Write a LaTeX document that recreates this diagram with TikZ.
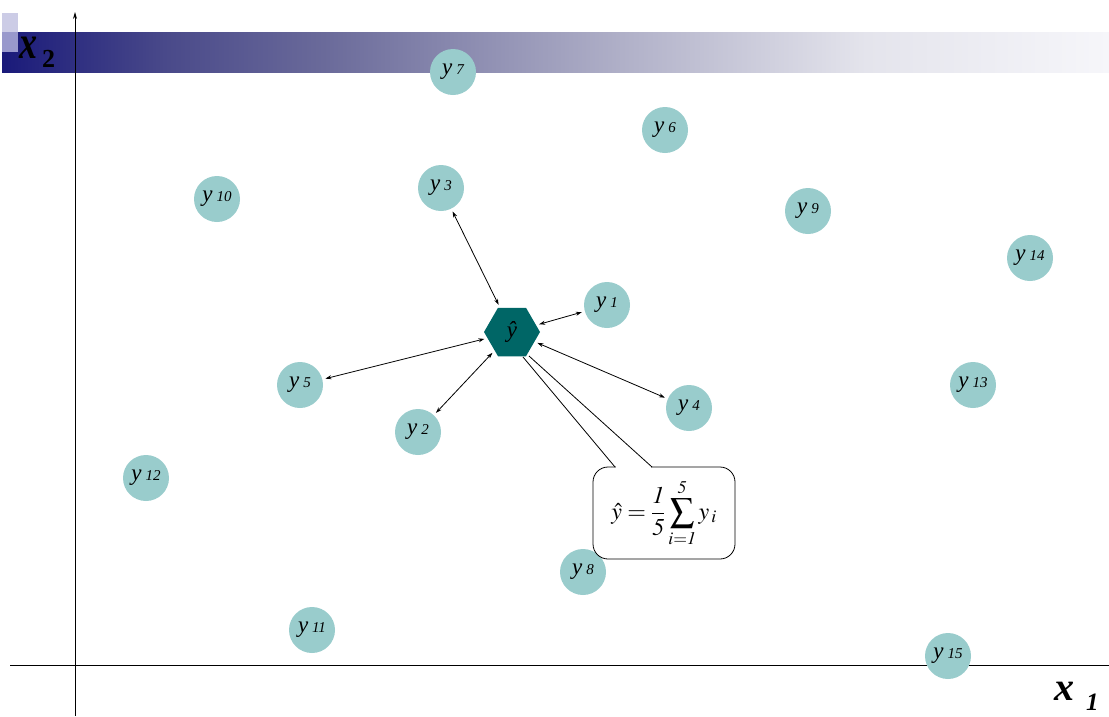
\documentclass[tikz,border=0pt]{standalone}
\usepackage{mathptmx}
\usepackage{fontspec}
\setmainfont{Liberation Serif}
\usetikzlibrary{shapes.geometric,arrows.meta}
\definecolor{ball}{RGB}{153,204,204}
\definecolor{hexc}{RGB}{0,102,102}
\definecolor{barA}{RGB}{26,26,122}
\definecolor{barB}{RGB}{74,74,138}
\definecolor{barC}{RGB}{106,106,154}
\definecolor{barD}{RGB}{176,176,200}
\definecolor{barE}{RGB}{228,228,236}
\definecolor{barF}{RGB}{246,246,250}
\definecolor{sqlight}{RGB}{204,204,230}
\definecolor{sqmid}{RGB}{153,153,204}
\pgfdeclarehorizontalshading{headerbar}{100bp}{color(0bp)=(barA); color(25bp)=(barA); color(32.5bp)=(barB); color(39.5bp)=(barC); color(53bp)=(barD); color(64bp)=(barE); color(75bp)=(barF); color(100bp)=(barF)}
\begin{document}
\begin{tikzpicture}[x=1pt,y=-1pt,
  pt/.style={circle, fill=ball, minimum size=46pt, inner sep=0pt},
  link/.style={{Stealth[length=6pt,width=4pt]}-{Stealth[length=6pt,width=4pt]}, line width=0.8pt, shorten >=3pt, shorten <=3pt},
  axis/.style={line width=0.8pt}]
\useasboundingbox (0,0) rectangle (1109,716);
% header bar
\shade[shading=headerbar] (2,32) rectangle (1109,72);
\fill[sqlight] (2,13) rectangle (18,32);
\fill[sqmid] (2,32) rectangle (18,52);
% axes
\coordinate (ybot) at (75,716);
\coordinate (ytop) at (75,12);
\coordinate (xl) at (10,665);
\coordinate (xr) at (1109,665);
\draw[axis,-{Stealth[length=7pt,width=4pt]}] (ybot) -- (ytop);
\draw[axis] (xl) -- (xr);
\node[anchor=base west, inner sep=0pt] (lx2) at (19,58) {\scalebox{1}[1.3]{\fontsize{36}{36}\selectfont\bfseries\itshape x}};
\node[anchor=base west, inner sep=0pt] (lx2s) at (42,67) {\fontsize{26}{26}\selectfont\bfseries 2};
\node[anchor=base west, inner sep=0pt] (lx1) at (1054,700) {\fontsize{40}{40}\selectfont\bfseries\itshape x};
\node[anchor=base west, inner sep=0pt] (lx1s) at (1086,710) {\fontsize{25}{25}\selectfont\bfseries\itshape 1};
% points
\foreach \n/\px/\py in {7/453/72, 6/665/130, 3/441/188, 10/217/199, 9/808/211, 14/1030/258,
  1/607/305, 5/300/385, 13/973/385, 4/689/408, 2/418/432, 12/146/478, 8/583/572, 11/312/630, 15/948/656}
  \node[pt] (y\n) at (\px,\py) {\fontsize{23}{23}\selectfont\itshape y\,{\fontsize{15}{15}\selectfont\n}};
% estimate hexagon
\node[regular polygon, regular polygon sides=6, fill=hexc, minimum size=56pt, inner sep=0pt,
  font=\fontsize{23}{23}\selectfont\itshape] (hat) at (512,332) {ŷ};
% arrows
\draw[link] (hat) -- (y3);
\draw[link] (hat) -- (y1);
\draw[link] (hat) -- (y5);
\draw[link] (hat) -- (y2);
\draw[link] (hat) -- (y4);
% callout
\node[draw, fill=white, rounded corners=15pt, minimum width=142pt, minimum height=92pt, line width=0.8pt, inner sep=0pt]
  (callout) at (664,513) {\fontsize{24}{24}\selectfont $\displaystyle \hat{y}=\frac{\mathit{1}}{\mathit{5}}\sum_{i=\mathit{1}}^{\mathit{5}} y_{\,i}$};
\coordinate (cbL) at (615,467);
\coordinate (cbR) at (652,467);
\coordinate (tipL) at (523,357);
\coordinate (tipR) at (529,356);
\fill[white] (616,464) rectangle (651,470);
\draw[line width=0.8pt] (cbL) -- (tipL);
\draw[line width=0.8pt] (cbR) -- (tipR);
\end{tikzpicture}
\end{document}
